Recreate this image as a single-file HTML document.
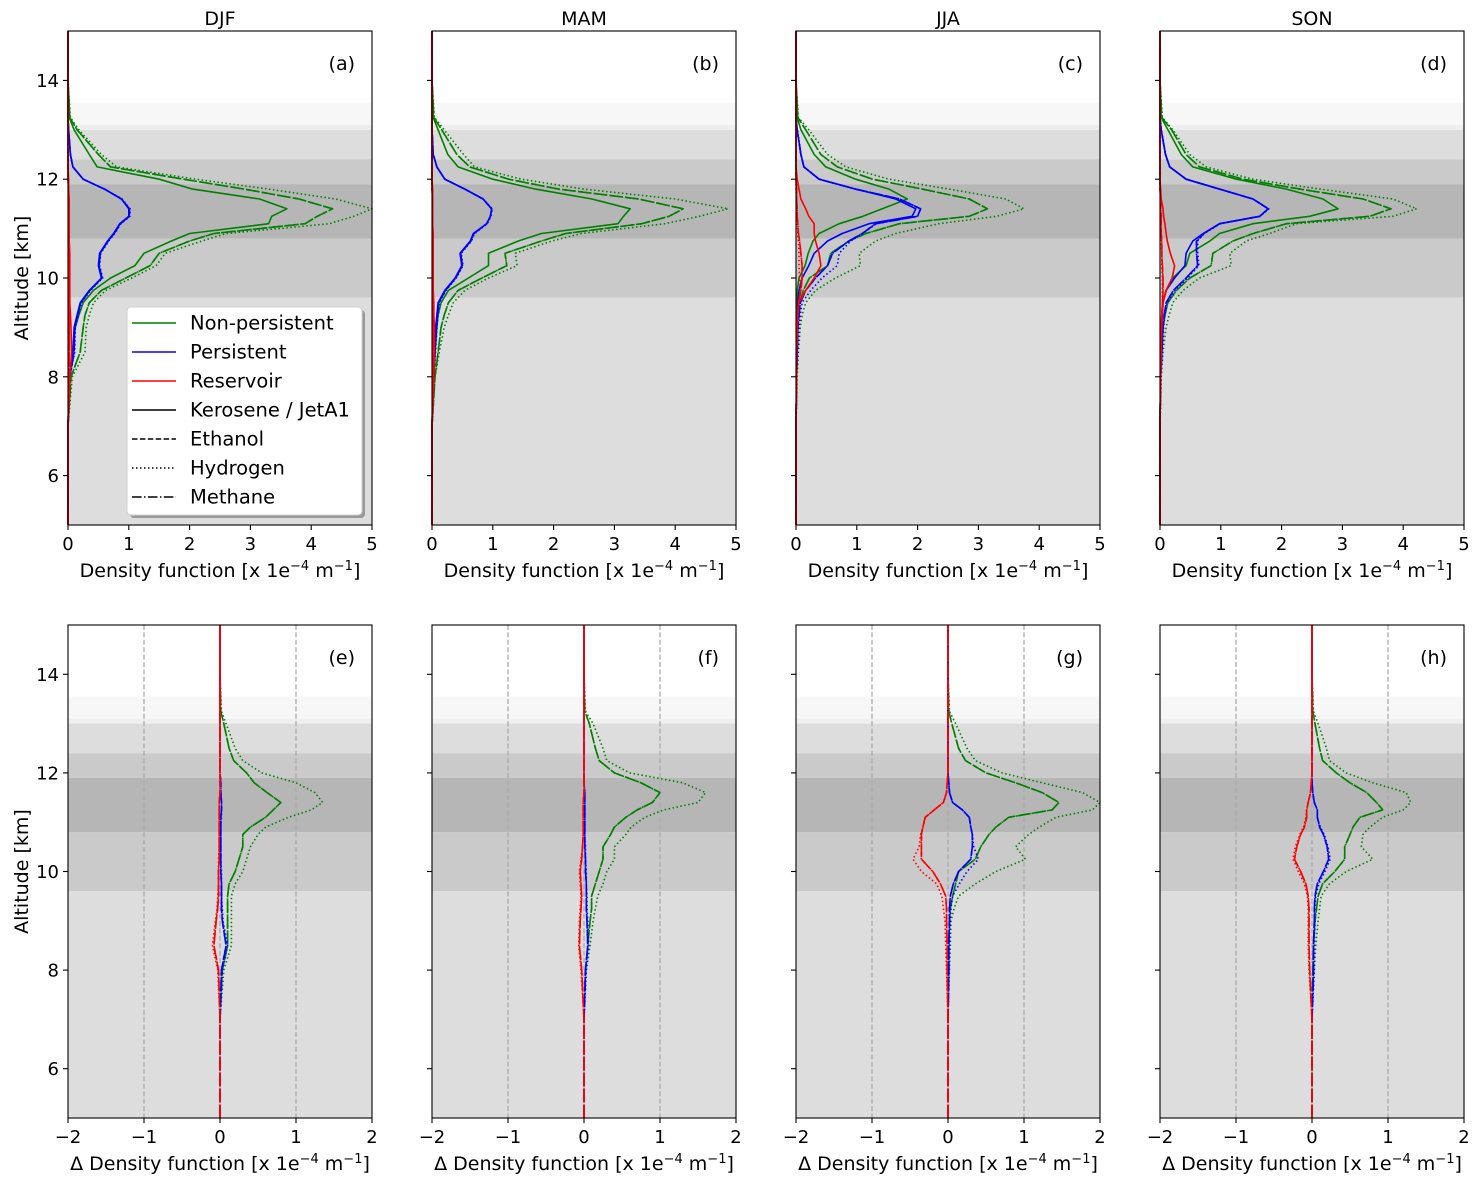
<!DOCTYPE html>
<html><head><meta charset="utf-8"><style>
html,body{margin:0;padding:0;background:#fff;}
svg{display:block;font-family:"DejaVu Sans","Liberation Sans",sans-serif;}
</style></head><body>
<svg id="fig" width="1484" height="1187" viewBox="0 0 1484 1187" xmlns="http://www.w3.org/2000/svg"></svg>
<script>
const ALT=[5,7,8,8.5,9,9.25,9.5,9.75,10,10.25,10.5,10.75,10.9,11.1,11.25,11.4,11.6,11.8,12,12.25,12.5,13,13.25,14,15];
const SEASONS=["DJF","MAM","JJA","SON"];
const TOP_XTICKS=[0,1,2,3,4,5];
const BOT_XTICKS=[-2,-1,0,1,2];
const YTICKS=[6,8,10,12,14];
const BAND_LO=[13.55,13.1,13.0,12.4,11.9,10.8,9.6,5];
const BAND_HI=[15,13.55,13.1,13.0,12.4,11.9,10.8,9.6];
// panel a DJF
const a_gK=[0,0,0.03,0.07,0.12,0.18,0.25,0.42,0.7,1.1,1.25,1.7,2.0,3.3,3.35,3.6,3.15,2.05,1.5,0.48,0.35,0.1,0.02,0,0];
const a_gE=[0,0,0.05,0.2,0.25,0.28,0.35,0.55,0.95,1.35,1.5,2.0,2.4,3.9,4.1,4.35,3.8,2.9,1.9,0.7,0.5,0.15,0.03,0,0];
const a_gH=[0,0,0.07,0.28,0.3,0.35,0.42,0.62,1.05,1.45,1.6,2.2,2.6,4.3,4.7,5.0,4.4,3.3,2.1,0.8,0.55,0.18,0.04,0,0];
const a_bK=[0,0,0.02,0.08,0.1,0.15,0.2,0.35,0.55,0.5,0.52,0.65,0.75,0.85,1.0,1.0,0.88,0.6,0.25,0.08,0.04,0.01,0,0,0];
const a_bE=[0,0,0.03,0.1,0.11,0.16,0.21,0.36,0.56,0.51,0.53,0.66,0.76,0.86,1.01,1.01,0.88,0.6,0.25,0.08,0.04,0.01,0,0,0];
const a_bH=[0,0,0.03,0.11,0.12,0.17,0.22,0.37,0.57,0.52,0.54,0.67,0.77,0.87,1.02,1.02,0.89,0.6,0.25,0.08,0.04,0.01,0,0,0];
const a_rK=[0,0,0.03,0.06,0.05,0.04,0.03,0.03,0.03,0.03,0.03,0.02,0.02,0.02,0.02,0.02,0.02,0.01,0.01,0,0,0,0,0,0];
const a_rE=[0,0,0.02,0.02,0.02,0.02,0.02,0.02,0.02,0.02,0.02,0.02,0.02,0.02,0.02,0.02,0.01,0.01,0,0,0,0,0,0,0];
const a_rH=[0,0,0.02,0.02,0.02,0.02,0.02,0.02,0.02,0.02,0.02,0.02,0.02,0.02,0.02,0.02,0.01,0.01,0,0,0,0,0,0,0];
// panel b MAM
const b_gK=[0,0,0.03,0.05,0.08,0.1,0.15,0.27,0.6,0.93,0.93,1.42,1.8,3.06,3.15,3.26,2.63,1.7,1.0,0.43,0.26,0.1,0.02,0,0];
const b_gE=[0,0,0.05,0.1,0.15,0.2,0.27,0.43,0.82,1.23,1.2,1.8,2.2,3.45,3.9,4.13,3.4,2.08,1.26,0.62,0.41,0.16,0.03,0,0];
const b_gH=[0,0,0.05,0.12,0.2,0.27,0.35,0.54,0.93,1.4,1.37,1.97,2.46,3.83,4.4,4.87,4.0,2.5,1.47,0.7,0.52,0.2,0.04,0,0];
const b_bK=[0,0,0.02,0.04,0.06,0.08,0.1,0.21,0.38,0.49,0.46,0.63,0.68,0.9,0.96,0.98,0.84,0.54,0.21,0.08,0.02,0,0,0,0];
const b_bE=[0,0,0.03,0.05,0.07,0.09,0.11,0.22,0.39,0.5,0.47,0.64,0.69,0.9,0.96,0.98,0.84,0.54,0.21,0.08,0.02,0,0,0,0];
const b_bH=[0,0,0.03,0.06,0.08,0.1,0.12,0.23,0.4,0.51,0.48,0.65,0.7,0.91,0.97,0.99,0.84,0.54,0.21,0.08,0.02,0,0,0,0];
const b_rK=[0,0,0.03,0.04,0.04,0.03,0.03,0.02,0.02,0.02,0.02,0.02,0.02,0.01,0.01,0.01,0.01,0.01,0,0,0,0,0,0,0];
const b_rE=[0,0,0.02,0.02,0.02,0.02,0.02,0.02,0.01,0.01,0.01,0.01,0.01,0.01,0.01,0.01,0.01,0,0,0,0,0,0,0,0];
const b_rH=[0,0,0.02,0.02,0.02,0.02,0.02,0.02,0.01,0.01,0.01,0.01,0.01,0.01,0.01,0.01,0.01,0,0,0,0,0,0,0,0];
// panel c JJA
const c_gK=[0,0,0.01,0.02,0.02,0.02,0.02,0.02,0.05,0.15,0.2,0.28,0.38,0.71,1.1,1.42,1.83,1.53,0.98,0.49,0.3,0.08,0.02,0,0];
const c_gE=[0,0,0.01,0.02,0.03,0.04,0.06,0.12,0.22,0.52,0.57,0.87,1.15,1.7,2.85,3.15,2.85,2.08,1.26,0.68,0.41,0.16,0.03,0,0];
const c_gH=[0,0,0.02,0.04,0.07,0.1,0.16,0.32,0.65,1.06,1.04,1.31,1.64,2.35,3.3,3.75,3.45,2.52,1.53,0.82,0.52,0.21,0.04,0,0];
const c_bK=[0,0,0.01,0.02,0.02,0.03,0.03,0.05,0.1,0.21,0.3,0.52,0.76,1.2,1.91,1.97,1.64,0.98,0.38,0.13,0.08,0.02,0,0,0];
const c_bE=[0,0,0.01,0.02,0.03,0.05,0.07,0.16,0.32,0.52,0.6,0.87,1.09,1.31,2.0,2.05,1.7,0.98,0.38,0.13,0.08,0.02,0,0,0];
const c_bH=[0,0,0.01,0.03,0.05,0.07,0.1,0.24,0.43,0.68,0.71,0.9,1.1,1.32,2.0,2.05,1.7,0.98,0.38,0.13,0.08,0.02,0,0,0];
const c_rK=[0,0,0.01,0.01,0.02,0.03,0.05,0.16,0.3,0.41,0.38,0.32,0.3,0.3,0.21,0.16,0.08,0.05,0.02,0,0,0,0,0,0];
const c_rE=[0,0,0.01,0.01,0.02,0.03,0.04,0.08,0.1,0.1,0.08,0.06,0.04,0.03,0.02,0.02,0.01,0.01,0,0,0,0,0,0,0];
const c_rH=[0,0,0.01,0.01,0.02,0.03,0.04,0.07,0.06,0.05,0.05,0.04,0.03,0.02,0.02,0.01,0.01,0,0,0,0,0,0,0,0];
// panel d SON
const d_gK=[0,0,0.01,0.02,0.02,0.03,0.05,0.1,0.21,0.43,0.49,0.82,0.98,1.53,2.46,2.93,2.68,2.08,1.26,0.54,0.35,0.13,0.02,0,0];
const d_gE=[0,0,0.01,0.03,0.05,0.08,0.13,0.27,0.49,0.84,0.87,1.2,1.53,2.08,3.45,3.8,3.34,2.3,1.37,0.65,0.43,0.19,0.03,0,0];
const d_gH=[0,0,0.02,0.05,0.1,0.15,0.21,0.38,0.65,1.17,1.15,1.42,1.8,2.24,3.83,4.22,3.83,2.63,1.53,0.76,0.49,0.21,0.04,0,0];
const d_bK=[0,0,0.01,0.02,0.03,0.04,0.05,0.1,0.24,0.41,0.43,0.54,0.71,0.98,1.64,1.78,1.53,0.98,0.43,0.16,0.09,0.02,0,0,0];
const d_bE=[0,0,0.01,0.03,0.05,0.07,0.1,0.22,0.43,0.62,0.6,0.6,0.72,0.98,1.64,1.78,1.53,0.98,0.43,0.16,0.09,0.02,0,0,0];
const d_bH=[0,0,0.02,0.04,0.06,0.08,0.12,0.25,0.45,0.64,0.62,0.62,0.73,0.99,1.65,1.79,1.53,0.98,0.43,0.16,0.09,0.02,0,0,0];
const d_rK=[0,0,0.01,0.02,0.03,0.04,0.05,0.1,0.2,0.24,0.17,0.12,0.1,0.08,0.06,0.05,0.02,0.01,0,0,0,0,0,0,0];
const d_rE=[0,0,0.01,0.01,0.02,0.03,0.04,0.05,0.05,0.04,0.03,0.03,0.02,0.02,0.02,0.01,0.01,0,0,0,0,0,0,0,0];
const d_rH=[0,0,0.01,0.01,0.02,0.03,0.04,0.04,0.04,0.03,0.03,0.02,0.02,0.02,0.01,0.01,0.01,0,0,0,0,0,0,0,0];
// panel e DJF differences
const e_gE=[0,0,0.03,0.1,0.1,0.1,0.1,0.12,0.2,0.25,0.3,0.3,0.4,0.6,0.7,0.8,0.62,0.45,0.35,0.18,0.12,0.05,0.01,0,0];
const e_gH=[0,0,0.05,0.15,0.15,0.15,0.15,0.2,0.3,0.35,0.4,0.5,0.6,0.9,1.2,1.35,1.25,1.0,0.55,0.3,0.2,0.08,0.02,0,0];
const e_bE=[0,0,0.02,0.08,0.03,0.02,0.02,0.02,0.01,0.01,0.01,0.01,0.01,0.01,0.02,0.02,0.01,0.01,0,0,0,0,0,0,0];
const e_bH=[0,0,0.03,0.1,0.04,0.03,0.02,0.02,0.02,0.01,0.01,0.01,0.01,0.02,0.02,0.02,0.01,0.01,0,0,0,0,0,0,0];
const e_rE=[0,0,-0.02,-0.08,-0.05,-0.03,-0.02,-0.02,-0.02,-0.01,-0.01,-0.01,-0.01,-0.01,-0.01,-0.01,0,0,0,0,0,0,0,0,0];
const e_rH=[0,0,-0.03,-0.1,-0.06,-0.04,-0.03,-0.02,-0.02,-0.02,-0.01,-0.01,-0.01,-0.01,-0.01,-0.01,0,0,0,0,0,0,0,0,0];
// panel f MAM differences
const f_gE=[0,0,0.02,0.05,0.08,0.1,0.1,0.15,0.2,0.25,0.25,0.35,0.4,0.55,0.7,0.9,1.0,0.75,0.4,0.2,0.15,0.07,0.01,0,0];
const f_gH=[0,0,0.03,0.08,0.12,0.15,0.18,0.25,0.3,0.4,0.4,0.55,0.62,0.8,1.05,1.5,1.6,1.3,0.6,0.3,0.25,0.12,0.02,0,0];
const f_bE=[0,0,0.02,0.05,0.04,0.03,0.03,0.03,0.02,0.02,0.01,0.01,0.01,0.01,0.01,0.01,0.01,0,0,0,0,0,0,0,0];
const f_bH=[0,0,0.03,0.06,0.05,0.04,0.04,0.03,0.03,0.02,0.02,0.01,0.01,0.01,0.01,0.01,0.01,0,0,0,0,0,0,0,0];
const f_rE=[0,0,-0.03,-0.06,-0.05,-0.04,-0.03,-0.04,-0.05,-0.03,-0.02,-0.01,-0.01,-0.01,-0.01,-0.01,0,0,0,0,0,0,0,0,0];
const f_rH=[0,0,-0.04,-0.07,-0.06,-0.05,-0.04,-0.05,-0.06,-0.04,-0.02,-0.01,-0.01,-0.01,-0.01,-0.01,0,0,0,0,0,0,0,0,0];
// panel g JJA differences
const g_gE=[0,0,0.01,0.01,0.02,0.03,0.06,0.1,0.14,0.36,0.43,0.54,0.63,0.8,1.37,1.46,1.24,0.89,0.5,0.23,0.14,0.05,0.01,0,0];
const g_gH=[0,0,0.02,0.03,0.04,0.08,0.14,0.36,0.63,1.02,0.89,1.06,1.2,1.42,1.9,2.0,1.77,1.24,0.71,0.36,0.25,0.1,0.02,0,0];
const g_bE=[0,0,0.01,0.01,0.02,0.02,0.03,0.07,0.14,0.3,0.32,0.32,0.3,0.28,0.19,0.06,0.02,0.01,0,0,0,0,0,0,0];
const g_bH=[0,0,0.01,0.02,0.03,0.04,0.06,0.15,0.25,0.4,0.34,0.32,0.3,0.28,0.19,0.06,0.02,0.01,0,0,0,0,0,0,0];
const g_rE=[0,0,-0.01,-0.01,-0.02,-0.02,-0.03,-0.1,-0.2,-0.35,-0.35,-0.35,-0.33,-0.3,-0.18,-0.06,-0.02,-0.01,0,0,0,0,0,0,0];
const g_rH=[0,0,-0.02,-0.03,-0.04,-0.06,-0.08,-0.15,-0.35,-0.46,-0.38,-0.36,-0.33,-0.3,-0.18,-0.06,-0.02,-0.01,0,0,0,0,0,0,0];
// panel h SON differences
const h_gE=[0,0,0.01,0.02,0.04,0.06,0.08,0.14,0.3,0.43,0.43,0.5,0.54,0.63,0.93,0.85,0.72,0.5,0.32,0.14,0.1,0.04,0.01,0,0];
const h_gH=[0,0,0.03,0.05,0.08,0.1,0.12,0.23,0.45,0.8,0.65,0.67,0.76,0.93,1.2,1.3,1.24,0.8,0.45,0.23,0.19,0.08,0.02,0,0];
const h_bE=[0,0,0.02,0.02,0.03,0.03,0.04,0.07,0.15,0.22,0.2,0.15,0.1,0.07,0.07,0.03,0.01,0,0,0,0,0,0,0,0];
const h_bH=[0,0,0.03,0.03,0.04,0.04,0.05,0.09,0.17,0.24,0.21,0.16,0.11,0.07,0.07,0.03,0.01,0,0,0,0,0,0,0,0];
const h_rE=[0,0,-0.03,-0.04,-0.04,-0.04,-0.05,-0.08,-0.15,-0.23,-0.2,-0.15,-0.1,-0.07,-0.07,-0.05,-0.02,-0.01,0,0,0,0,0,0,0];
const h_rH=[0,0,-0.04,-0.05,-0.05,-0.05,-0.06,-0.1,-0.18,-0.25,-0.22,-0.16,-0.11,-0.08,-0.07,-0.05,-0.02,-0.01,0,0,0,0,0,0,0];

const NS="http://www.w3.org/2000/svg";
const svg=document.getElementById('fig');
function el(tag,attrs,parent,txt){const e=document.createElementNS(NS,tag);for(const k in attrs)e.setAttribute(k,attrs[k]);if(txt!==undefined)e.textContent=txt;(parent||svg).appendChild(e);return e;}
const LEFTS=[68,432,796,1160];const W=304;
const ROWS=[{top:31,bot:525,xmin:0,xmax:5,ticks:TOP_XTICKS,labels:["a","b","c","d"]},{top:625,bot:1118,xmin:-2,xmax:2,ticks:BOT_XTICKS,labels:["e","f","g","h"]}];
const BAND_COL=["#ffffff","#f7f7f7","#efefef","#dddddd","#cacaca","#b6b6b6","#cacaca","#dddddd"];
const STYLES={K:"none",E:"5.5,2.4",H:"1.5,2.5",M:"9.6,2.4,1.5,2.4"};
const COLORS={g:"#008000",b:"#0000ff",r:"#ff0000"};
const TOPSETS=[
 {gK:a_gK,gE:a_gE,gH:a_gH,bK:a_bK,bE:a_bE,bH:a_bH,rK:a_rK,rE:a_rE,rH:a_rH},
 {gK:b_gK,gE:b_gE,gH:b_gH,bK:b_bK,bE:b_bE,bH:b_bH,rK:b_rK,rE:b_rE,rH:b_rH},
 {gK:c_gK,gE:c_gE,gH:c_gH,bK:c_bK,bE:c_bE,bH:c_bH,rK:c_rK,rE:c_rE,rH:c_rH},
 {gK:d_gK,gE:d_gE,gH:d_gH,bK:d_bK,bE:d_bE,bH:d_bH,rK:d_rK,rE:d_rE,rH:d_rH}];
const BOTSETS=[
 {gE:e_gE,gH:e_gH,bE:e_bE,bH:e_bH,rE:e_rE,rH:e_rH},
 {gE:f_gE,gH:f_gH,bE:f_bE,bH:f_bH,rE:f_rE,rH:f_rH},
 {gE:g_gE,gH:g_gH,bE:g_bE,bH:g_bH,rE:g_rE,rH:g_rH},
 {gE:h_gE,gH:h_gH,bE:h_bE,bH:h_bH,rE:h_rE,rH:h_rH}];

ROWS.forEach((row,ri)=>{
 LEFTS.forEach((L,pi)=>{
  const xs=v=>L+(v-row.xmin)/(row.xmax-row.xmin)*W;
  const ys=a=>row.bot-(a-5)/10*(row.bot-row.top);
  const g=el('g',{});
  
  
  BAND_LO.forEach((lo,i)=>{
   const r=el('rect',{x:L,y:ys(BAND_HI[i]),width:W,height:ys(lo)-ys(BAND_HI[i]),fill:BAND_COL[i]},g);
   
   
  });
  if(ri===1){
   [-1,0,1].forEach(v=>{
    const ln=el('line',{x1:xs(v),x2:xs(v),y1:row.top,y2:row.bot,stroke:"#aaaaaa","stroke-width":1.3,"stroke-dasharray":"5,2.4"},g);
    
    
   });
  }
  const set=ri===0?TOPSETS[pi]:BOTSETS[pi];
  const order=ri===0?["gH","gE","gM","gK","bH","bE","bM","bK","rH","rE","rM","rK"]:["gH","gE","gM","bH","bE","bM","rH","rE","rM"];
  order.forEach(key=>{
   const c=key[0],s=key[1];
   const vals=s==="M"?set[c+"E"]:set[key];
   if(!vals)return;
   const pts=ALT.map((a,i)=>xs(vals[i]).toFixed(1)+","+ys(a).toFixed(1)).join(" ");
   const p=el('polyline',{points:pts,fill:"none",stroke:COLORS[c],"stroke-width":1.6,"stroke-linejoin":"round"},g);
   if(STYLES[s]!=="none")p.setAttribute('stroke-dasharray',STYLES[s]);
   
   
  });
  const fr=el('rect',{x:L,y:row.top,width:W,height:row.bot-row.top,fill:"none",stroke:"#000","stroke-width":1.1},g);
  
  
  row.ticks.forEach(v=>{
   el('line',{x1:xs(v),x2:xs(v),y1:row.bot,y2:row.bot+5,stroke:"#000","stroke-width":1.1},g);
   const t=el('text',{x:xs(v),y:row.bot+25,"text-anchor":"middle","font-size":18},g,v<0?"\u2212"+(-v):String(v));
   
   
  });
  YTICKS.forEach(v=>{
   el('line',{x1:L,x2:L-5,y1:ys(v),y2:ys(v),stroke:"#000","stroke-width":1.1},g);
   if(pi===0){
    const t=el('text',{x:L-9,y:ys(v)+6.5,"text-anchor":"end","font-size":18},g,String(v));
    
    
   }
  });
  const pl=el('text',{x:L+W-17,y:row.top+39,"text-anchor":"end","font-size":19},g,"("+row.labels[pi]+")");
  
  
  const xl=el('text',{x:L+W/2,y:row.bot+52,"text-anchor":"middle","font-size":19},g);
  
  
  xl.innerHTML=(ri===1?"\u0394 ":"")+'Density function [x 1e<tspan dy="-7" font-size="13">\u22124</tspan><tspan dy="7"> m</tspan><tspan dy="-7" font-size="13">\u22121</tspan><tspan dy="7">]</tspan>';
  if(ri===0){
   const st=el('text',{x:L+W/2,y:25,"text-anchor":"middle","font-size":19},g,SEASONS[pi]);
   
   
  }
  if(pi===0){
   const cy=(row.top+row.bot)/2;
   const yl=el('text',{x:28,y:cy,"text-anchor":"middle","font-size":19,transform:"rotate(-90 28 "+cy+")"},g,"Altitude [km]");
   
   
  }
 });
});
// legend
const LEG_NAMES=["Non-persistent","Persistent","Reservoir","Kerosene / JetA1","Ethanol","Hydrogen","Methane"];
const LEG_COLORS=["#008000","#0000ff","#ff0000","#000","#000","#000","#000"];
const LEG_DASH=["none","none","none","none","5.5,2.4","1.5,2.5","9.6,2.4,1.5,2.4"];
const lg=el('g',{});


el('rect',{x:130,y:310,width:235,height:208,rx:4,fill:"#999"},lg);
el('rect',{x:127,y:307,width:235,height:208,rx:4,fill:"#fff",stroke:"#d0d0d0"},lg);
LEG_NAMES.forEach((n,i)=>{
 const y=323+i*29;
 const ent=el('g',{},lg);
 
 
 const ln=el('line',{x1:132,x2:176,y1:y,y2:y,stroke:LEG_COLORS[i],"stroke-width":1.6},ent);
 if(LEG_DASH[i]!=="none")ln.setAttribute('stroke-dasharray',LEG_DASH[i]);
 el('text',{x:190,y:y+6.5,"font-size":19.5},ent,n);
});
</script>
</body></html>
